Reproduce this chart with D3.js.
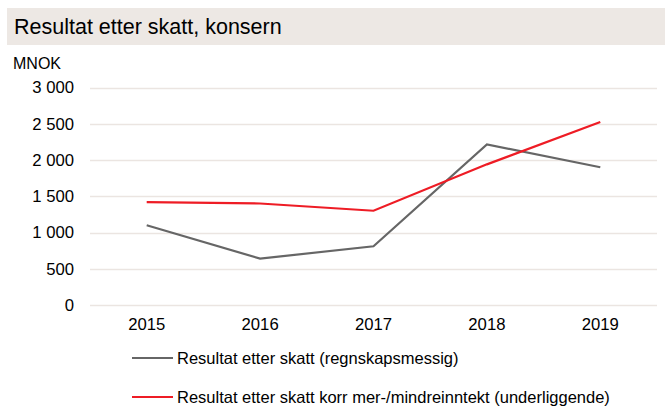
<!DOCTYPE html>
<meta charset="utf-8">
<script src="https://d3js.org/d3.v7.min.js"></script>
<style>
  body { margin: 0; background: #fff; }
  text { font-family: "Liberation Sans", Arial, sans-serif; fill: #000; }
</style>
<div id="chart"></div>
<script>
  var years = ["2015", "2016", "2017", "2018", "2019"];
  var regnskap = [1100, 640, 810, 2215, 1900];
  var underliggende = [1420, 1400, 1300, 1940, 2525];
  var yTicks = [0, 500, 1000, 1500, 2000, 2500, 3000];
  var seriesNames = [
    "Resultat etter skatt (regnskapsmessig)",
    "Resultat etter skatt korr mer-/mindreinntekt (underliggende)"
  ];
  var colors = ["#666666", "#ee1c25"];

  var W = 665, H = 408;
  var svg = d3.select("#chart").append("svg")
      .attr("width", W)
      .attr("height", H);

  // title band
  svg.append("rect")
      .attr("x", 7).attr("y", 8)
      .attr("width", W - 7).attr("height", 37)
      .attr("fill", "#ede8e4");
  svg.append("text")
      .attr("x", 14).attr("y", 34)
      .attr("font-size", "21.5px")
      .text("Resultat etter skatt, konsern");

  svg.append("text")
      .attr("x", 13).attr("y", 69)
      .attr("font-size", "16px")
      .text("MNOK");

  var x = d3.scaleBand().domain(years).range([90, 657]);
  var y = d3.scaleLinear().domain([0, 3000]).range([305, 87.5]);

  // gridlines
  svg.append("g")
    .selectAll("line")
    .data(yTicks)
    .enter()
    .append("line")
      .attr("x1", 90).attr("x2", 657)
      .attr("y1", function (d) { return Math.round(y(d)) + 0.5; })
      .attr("y2", function (d) { return Math.round(y(d)) + 0.5; })
      .attr("stroke", "#ebe5e1")
      .attr("stroke-width", 1.5);

  var fmt = function (d) { return d3.format(",")(d).replace(",", " "); };

  var yAxis = svg.append("g")
      .attr("transform", "translate(90,0)")
      .call(d3.axisLeft(y).tickValues(yTicks).tickFormat(fmt).tickSize(0).tickPadding(16));
  yAxis.select(".domain").remove();
  yAxis.selectAll("text")
      .attr("font-size", "16.7px")
      .attr("font-family", "Liberation Sans, Arial, sans-serif")
      .attr("fill", "#000");

  var xAxis = svg.append("g")
      .attr("transform", "translate(0,305)")
      .call(d3.axisBottom(x).tickSize(0).tickPadding(13));
  xAxis.select(".domain").remove();
  xAxis.selectAll("text")
      .attr("font-size", "16.7px")
      .attr("font-family", "Liberation Sans, Arial, sans-serif")
      .attr("fill", "#000");

  var line = d3.line()
      .x(function (d, i) { return x(years[i]) + x.bandwidth() / 2; })
      .y(function (d) { return y(d); });

  [regnskap, underliggende].forEach(function (s, i) {
    svg.append("path")
        .datum(s)
        .attr("d", line)
        .attr("fill", "none")
        .attr("stroke", colors[i])
        .attr("stroke-width", 2.2);
  });

  // legend
  var legend = svg.append("g")
    .selectAll("g")
    .data(seriesNames)
    .enter()
    .append("g")
      .attr("transform", function (d, i) { return "translate(132," + (358 + i * 39) + ")"; });
  legend.append("line")
      .attr("x1", 0).attr("x2", 41)
      .attr("stroke", function (d, i) { return colors[i]; })
      .attr("stroke-width", 2.2);
  legend.append("text")
      .attr("x", 45).attr("y", 6)
      .attr("font-size", "16.5px")
      .text(function (d) { return d; });
</script>
